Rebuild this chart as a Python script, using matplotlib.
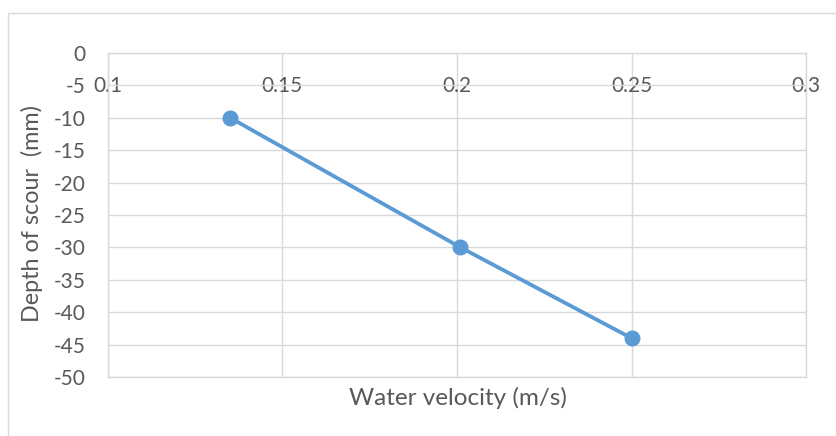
import matplotlib
matplotlib.use("Agg")
import matplotlib.pyplot as plt
from matplotlib.patches import Rectangle

velocity = [0.135, 0.201, 0.25]
depth = [-10, -30, -44]
x_ticks = [0.1, 0.15, 0.2, 0.25, 0.3]
x_tick_labels = ["0.1", "0.15", "0.2", "0.25", "0.3"]
y_ticks = list(range(-50, 1, 5))
y_tick_labels = [str(v) for v in y_ticks]

plt.rcParams['font.family'] = ['Lato', 'DejaVu Sans']
W, H = 837, 436
fig = plt.figure(figsize=(W / 100, H / 100), dpi=100)
fig.patch.set_facecolor('white')

# outer chart border
fig.patches.append(Rectangle((8 / W, -0.05), 1.2, 1 - 13 / H + 0.05,
                             transform=fig.transFigure, fill=False,
                             edgecolor='#D9D9D9', linewidth=1.0))

ax = fig.add_axes([108 / W, 1 - 377 / H, (806 - 108) / W, (377 - 53) / H])
grid_c = '#D9D9D9'
text_c = '#595959'

ax.plot(velocity, depth, color='#5B9BD5', linewidth=2.75, marker='o',
        markersize=10.5, zorder=3, solid_capstyle='round')

ax.set_xlim(0.1, 0.3)
ax.set_ylim(-50, 0)
ax.set_xticks(x_ticks)
ax.set_xticklabels(x_tick_labels)
ax.set_yticks(y_ticks)
ax.set_yticklabels(y_tick_labels)
ax.grid(True, color=grid_c, linewidth=1.0, zorder=0)
ax.set_axisbelow(True)

for s in ax.spines.values():
    s.set_color(grid_c)
    s.set_linewidth(1.0)

# x tick labels sit just below the y=0 line (top of plot)
ax.xaxis.tick_top()
ax.tick_params(axis='x', which='both', length=0, labelsize=15, labelcolor=text_c,
               top=True, labeltop=True, bottom=False, labelbottom=False,
               direction='in', pad=-31)
ax.tick_params(axis='y', length=0, labelsize=15, labelcolor=text_c, pad=16)

fig.text(458 / W, 1 - 398 / H, "Water velocity (m/s)", ha='center', va='center',
         fontsize=17.5, color=text_c)
fig.text(32 / W, 1 - 214 / H, "Depth of scour  (mm)", ha='center', va='center',
         rotation=90, fontsize=16.8, color=text_c)

fig.savefig("out.png", dpi=100)
